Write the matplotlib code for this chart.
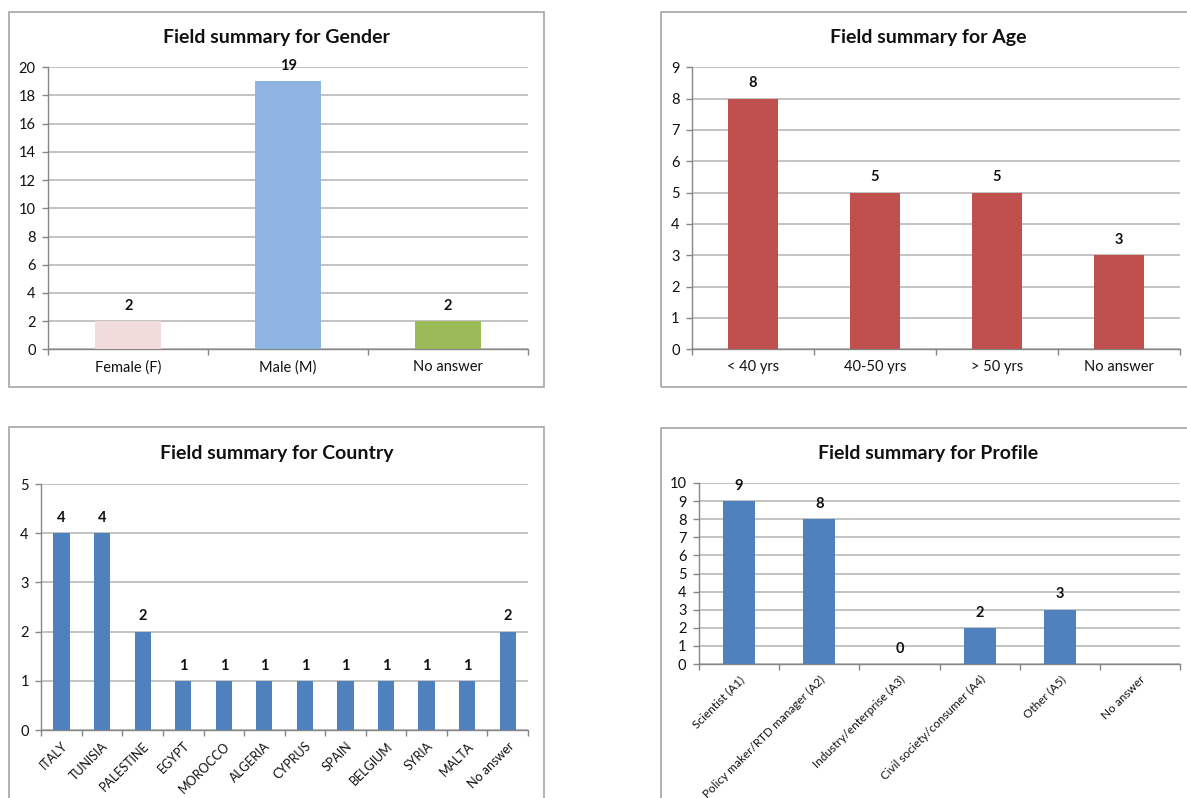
import numpy as np
import matplotlib
matplotlib.use("Agg")
import matplotlib.pyplot as plt
from matplotlib.patches import Rectangle

plt.rcParams['font.family'] = ['Lato', 'DejaVu Sans']

# ---- data ----
gender_labels = ["Female (F)", "Male (M)", "No answer"]
gender_values = [2, 19, 2]
gender_colors = ["#F2DCDB", "#8EB4E3", "#9BBB59"]

age_labels = ["< 40 yrs", "40-50 yrs", "> 50 yrs", "No answer"]
age_values = [8, 5, 5, 3]

country_labels = ["ITALY", "TUNISIA", "PALESTINE", "EGYPT", "MOROCCO", "ALGERIA",
                  "CYPRUS", "SPAIN", "BELGIUM", "SYRIA", "MALTA", "No answer"]
country_values = [4, 4, 2, 1, 1, 1, 1, 1, 1, 1, 1, 2]

profile_labels = ["Scientist (A1)", "Policy maker/RTD manager (A2)", "Industry/enterprise (A3)",
                  "Civil society/consumer (A4)", "Other (A5)", "No answer"]
profile_values = [9, 8, 0, 2, 3, np.nan]

W, H = 1187, 798
fig = plt.figure(figsize=(W / 100, H / 100), dpi=100)

AXIS_C = "#868686"
GRID_C = "#B9B9B9"
BOX_C = "#A6A6A6"
TEXT_C = "#111111"


def px_axes(x0, x1, y0, y1):
    """Create axes from pixel bounds (y measured from the top)."""
    return fig.add_axes([x0 / W, 1 - y1 / H, (x1 - x0) / W, (y1 - y0) / H])


def panel_box(x0, x1, y0, y1):
    fig.patches.append(Rectangle((x0 / W, 1 - y1 / H), (x1 - x0) / W, (y1 - y0) / H,
                                 transform=fig.transFigure, fill=False,
                                 edgecolor=BOX_C, linewidth=1.2, zorder=0))


def panel_title(text, x, y):
    fig.text(x / W, 1 - y / H, text, ha="center", va="center",
             fontsize=14, fontweight="bold", color=TEXT_C)


def draw_bars(ax, labels, values, colors, ymax, step, xfont, rot, xpad, width=0.4):
    n = len(labels)
    x = np.arange(n)
    vals = np.array(values, dtype=float)
    ax.bar(x, np.nan_to_num(vals), width=width, color=colors, zorder=3, linewidth=0)
    ax.set_xlim(-0.5, n - 0.5)
    ax.set_ylim(0, ymax)
    ax.set_yticks(np.arange(0, ymax + step / 2, step))
    ax.yaxis.grid(True, color=GRID_C, linewidth=1.2, zorder=0)
    ax.set_axisbelow(True)
    for s in ("top", "right"):
        ax.spines[s].set_visible(False)
    for s in ("left", "bottom"):
        ax.spines[s].set_color(AXIS_C)
        ax.spines[s].set_linewidth(1.0)
    ax.tick_params(axis="y", length=4, width=1, color=AXIS_C, pad=5,
                   labelsize=10.5, labelcolor=TEXT_C)
    ax.set_xticks(x)
    ax.set_xticks(np.arange(-0.5, n, 1.0), minor=True)
    ax.tick_params(axis="x", which="minor", length=4, width=1, color=AXIS_C)
    ax.tick_params(axis="x", which="major", length=0, pad=xpad)
    if rot:
        ax.set_xticklabels(labels, rotation=45, ha="right", rotation_mode="anchor",
                           fontsize=xfont, color=TEXT_C)
    else:
        ax.set_xticklabels(labels, fontsize=xfont, color=TEXT_C)
    for xi, v in zip(x, vals):
        if np.isnan(v):
            continue
        ax.annotate(f"{v:g}", (xi, v), xytext=(0, 11), textcoords="offset points",
                    ha="center", va="center", fontsize=10.5, fontweight="bold",
                    color=TEXT_C, zorder=4)


# Gender
panel_box(9.5, 544, 12, 387)
panel_title("Field summary for Gender", 276, 37)
ax1 = px_axes(48.3, 528, 67.3, 349.3)
draw_bars(ax1, gender_labels, gender_values, gender_colors, 20, 2, 10.5, False, 8, width=0.41)

# Age
panel_box(661, 1200, 12, 387)
panel_title("Field summary for Age", 928, 37)
ax2 = px_axes(692, 1180, 67.3, 349.3)
draw_bars(ax2, age_labels, age_values, "#C0504D", 9, 1, 10.5, False, 8, width=0.41)

# Country
panel_box(9.5, 544, 427, 810)
panel_title("Field summary for Country", 277, 453)
ax3 = px_axes(41.3, 528, 484, 730)
draw_bars(ax3, country_labels, country_values, "#4F81BD", 5, 1, 9, True, 7, width=0.4)

# Profile
panel_box(661, 1200, 428, 810)
panel_title("Field summary for Profile", 928, 453)
ax4 = px_axes(699, 1180, 483, 664)
draw_bars(ax4, profile_labels, profile_values, "#4F81BD", 10, 1, 8.5, True, 7, width=0.4)

fig.savefig("out.png", dpi=100, facecolor="white")
